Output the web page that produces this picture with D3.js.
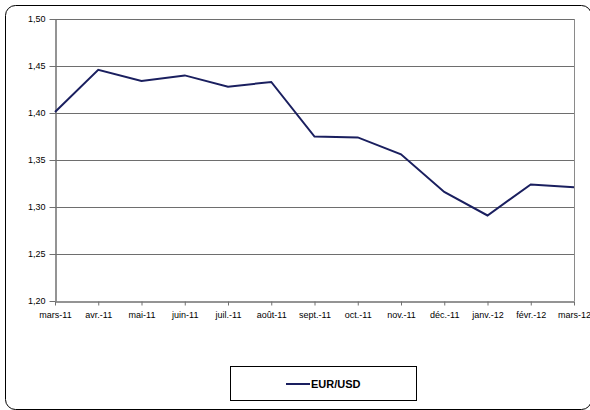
<!DOCTYPE html>
<html><head><meta charset="utf-8">
<script src="https://cdn.jsdelivr.net/npm/d3@7"></script>
<style>body{margin:0;background:#fff}svg{display:block;font-family:"Liberation Sans",Arial,sans-serif}</style>
</head><body><svg id="c" width="590" height="410"></svg>
<script>
const categories = ["mars-11","avr.-11","mai-11","juin-11","juil.-11","août-11","sept.-11","oct.-11","nov.-11","déc.-11","janv.-12","févr.-12","mars-12"];
const eurUsd = [1.401,1.446,1.434,1.440,1.428,1.433,1.375,1.374,1.356,1.316,1.291,1.324,1.321];
const yTicks = [1.20,1.25,1.30,1.35,1.40,1.45,1.50];
const seriesName = "EUR/USD";

const svg = d3.select("#c");
svg.append("rect").attr("x",5.5).attr("y",5.5).attr("width",586).attr("height",404).attr("rx",10)
  .attr("fill","#fff").attr("stroke","#000").attr("stroke-width",1);

const L=55, R=574, T=19, B=301;
const x = d3.scalePoint().domain(categories).range([L,R]);
const y = d3.scaleLinear().domain([1.20,1.50]).range([B,T]);

// gridlines
svg.append("g").selectAll("line").data(yTicks.slice(1)).join("line")
  .attr("x1",L).attr("x2",R).attr("y1",d=>Math.round(y(d))+0.5).attr("y2",d=>Math.round(y(d))+0.5)
  .attr("stroke","#6e6e6e").attr("stroke-width",1);
// right border
svg.append("line").attr("x1",R+0.5).attr("x2",R+0.5).attr("y1",T).attr("y2",B).attr("stroke","#8a8a8a");

const fmt = d=>d.toFixed(2).replace(".",",");
const yAxis = svg.append("g").attr("transform",`translate(${L+0.5},0)`)
  .call(d3.axisLeft(y).tickValues(yTicks).tickFormat(fmt).tickSize(6).tickSizeOuter(0));
yAxis.select(".domain").attr("stroke","#707070").attr("stroke-width",1.5);
yAxis.selectAll(".tick line").attr("stroke","#707070");
yAxis.selectAll("text").attr("font-size",9).attr("fill","#000").attr("x",-10).attr("font-family","Liberation Sans, Arial, sans-serif");

const xAxis = svg.append("g").attr("transform",`translate(0,${B+0.5})`)
  .call(d3.axisBottom(x).tickSize(4).tickSizeOuter(0));
xAxis.select(".domain").attr("stroke","#707070").attr("stroke-width",1.5);
xAxis.selectAll(".tick line").attr("stroke","#707070");
xAxis.selectAll("text").attr("font-size",9).attr("fill","#000").attr("y",10).attr("dy","0.71em").attr("font-family","Liberation Sans, Arial, sans-serif");

const line = d3.line().x((d,i)=>x(categories[i])).y(d=>y(d));
svg.append("path").datum(eurUsd).attr("d",line).attr("fill","none")
  .attr("stroke","#1a1f5f").attr("stroke-width",2).attr("stroke-linejoin","miter");

// legend
svg.append("rect").attr("x",230.5).attr("y",366.5).attr("width",186).attr("height",34)
  .attr("fill","#fff").attr("stroke","#000");
svg.append("line").attr("x1",286).attr("x2",310).attr("y1",384).attr("y2",384)
  .attr("stroke","#1a1f5f").attr("stroke-width",2);
svg.append("text").attr("x",311).attr("y",388).attr("font-size",11).attr("font-weight","bold").text(seriesName);
</script></body></html>
